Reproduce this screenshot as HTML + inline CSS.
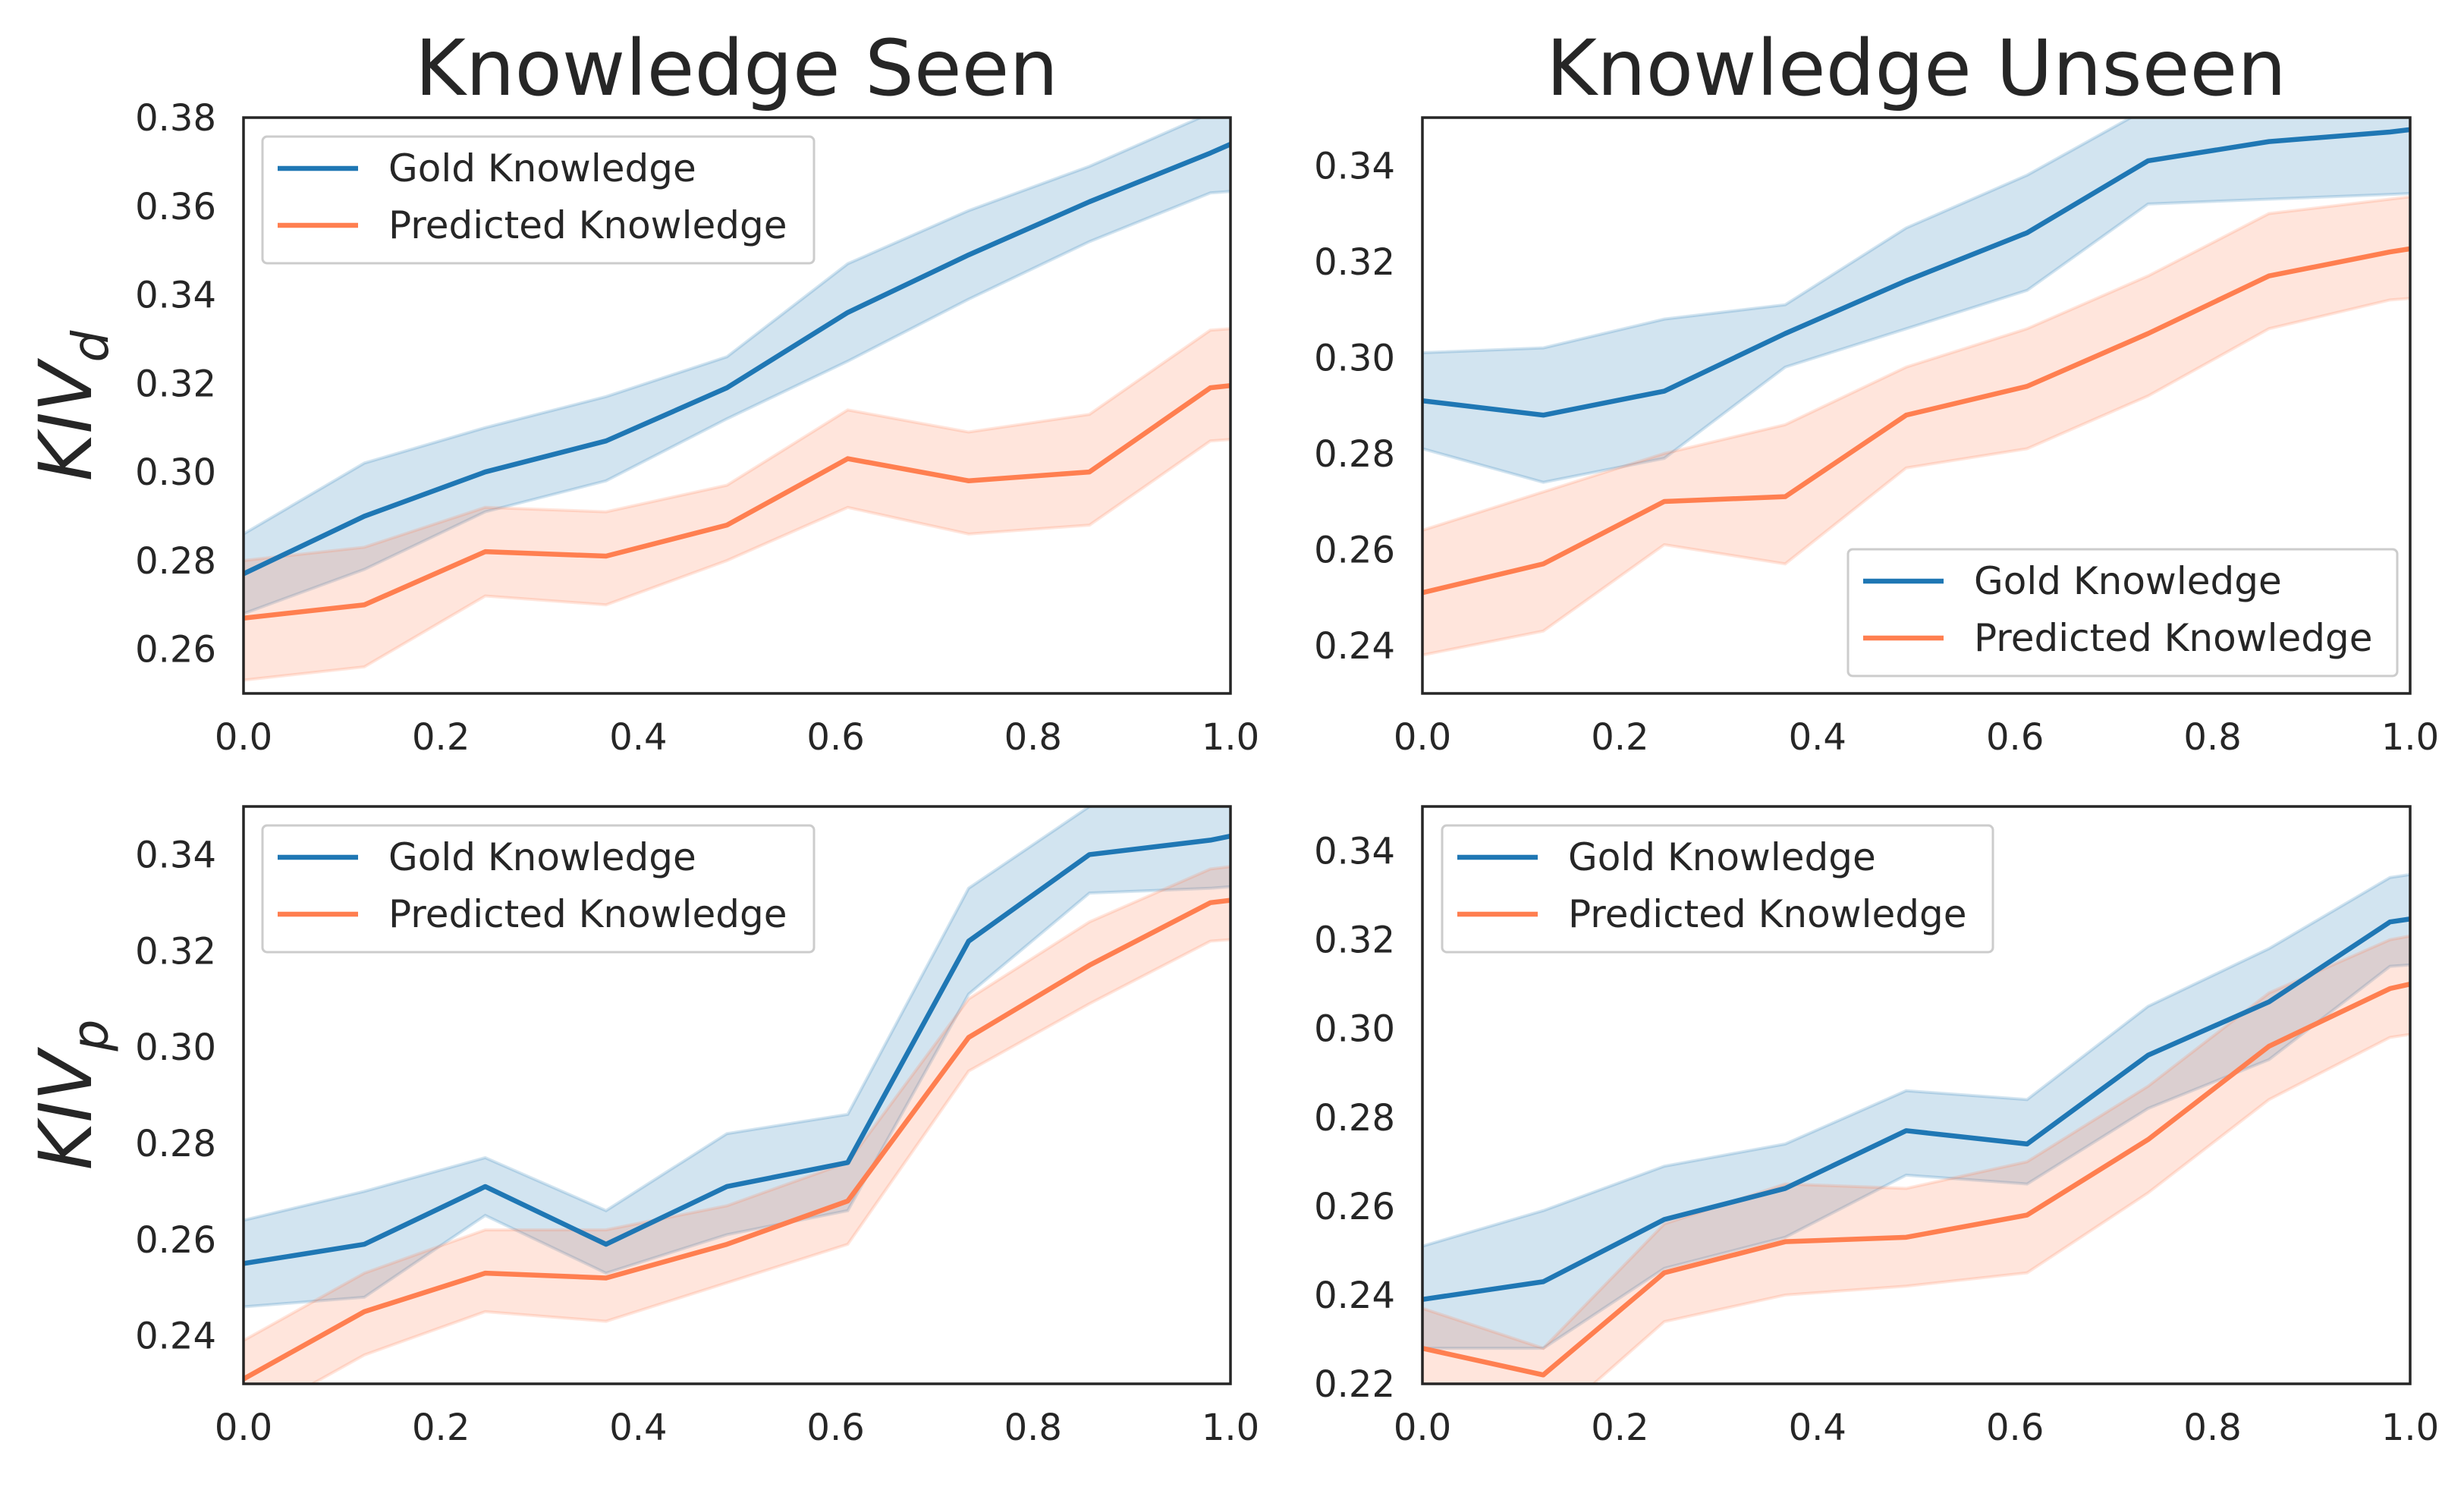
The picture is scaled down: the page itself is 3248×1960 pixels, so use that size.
<!DOCTYPE html>
<html><head><meta charset="utf-8">
<style>
html,body{margin:0;padding:0;background:#fff;}
svg{display:block;}
text{font-family:"DejaVu Sans","Liberation Sans",sans-serif;fill:#262626;}
</style></head>
<body>
<svg id="chart" width="3248" height="1960" viewBox="0 0 3248 1960" xmlns="http://www.w3.org/2000/svg"></svg>
<script>
const xs = [0,0.1224,0.2449,0.3673,0.4898,0.6122,0.7347,0.8571,0.9796,1.102];
const xTicks = [0.0,0.2,0.4,0.6,0.8,1.0];
const xTickLabels = ["0.0","0.2","0.4","0.6","0.8","1.0"];
const seriesNames = ["Gold Knowledge","Predicted Knowledge"];

// Panel A: Knowledge Seen, KIV_d
const aGold = [0.277,0.290,0.300,0.307,0.319,0.336,0.349,0.361,0.372,0.384];
const aGoldLo = [0.268,0.278,0.291,0.298,0.312,0.325,0.339,0.352,0.363,0.365];
const aGoldHi = [0.286,0.302,0.310,0.317,0.326,0.347,0.359,0.369,0.381,0.390];
const aPred = [0.267,0.270,0.282,0.281,0.288,0.303,0.298,0.300,0.319,0.322];
const aPredLo = [0.253,0.256,0.272,0.270,0.280,0.292,0.286,0.288,0.307,0.309];
const aPredHi = [0.280,0.283,0.292,0.291,0.297,0.314,0.309,0.313,0.332,0.334];
const aTicks = [0.26,0.28,0.30,0.32,0.34,0.36,0.38];

// Panel B: Knowledge Unseen, KIV_d
const bGold = [0.291,0.288,0.293,0.305,0.316,0.326,0.341,0.345,0.347,0.350];
const bGoldLo = [0.281,0.274,0.279,0.298,0.306,0.314,0.332,0.333,0.334,0.335];
const bGoldHi = [0.301,0.302,0.308,0.311,0.327,0.338,0.352,0.356,0.359,0.360];
const bPred = [0.251,0.257,0.270,0.271,0.288,0.294,0.305,0.317,0.322,0.326];
const bPredLo = [0.238,0.243,0.261,0.257,0.277,0.281,0.292,0.306,0.312,0.314];
const bPredHi = [0.264,0.272,0.280,0.286,0.298,0.306,0.317,0.330,0.333,0.336];
const bTicks = [0.24,0.26,0.28,0.30,0.32,0.34];

// Panel C: Knowledge Seen, KIV_p
const cGold = [0.255,0.259,0.271,0.259,0.271,0.276,0.322,0.340,0.343,0.348];
const cGoldLo = [0.246,0.248,0.265,0.253,0.261,0.266,0.311,0.332,0.333,0.335];
const cGoldHi = [0.264,0.270,0.277,0.266,0.282,0.286,0.333,0.350,0.353,0.356];
const cPred = [0.231,0.245,0.253,0.252,0.259,0.268,0.302,0.317,0.330,0.333];
const cPredLo = [0.222,0.236,0.245,0.243,0.251,0.259,0.295,0.309,0.322,0.324];
const cPredHi = [0.239,0.253,0.262,0.262,0.267,0.276,0.310,0.326,0.337,0.340];
const cTicks = [0.24,0.26,0.28,0.30,0.32,0.34];

// Panel D: Knowledge Unseen, KIV_p
const dGold = [0.239,0.243,0.257,0.264,0.277,0.274,0.294,0.306,0.324,0.328];
const dGoldLo = [0.228,0.228,0.246,0.253,0.267,0.265,0.282,0.293,0.314,0.316];
const dGoldHi = [0.251,0.259,0.269,0.274,0.286,0.284,0.305,0.318,0.334,0.338];
const dPred = [0.228,0.222,0.245,0.252,0.253,0.258,0.275,0.296,0.309,0.315];
const dPredLo = [0.216,0.210,0.234,0.240,0.242,0.245,0.263,0.284,0.298,0.302];
const dPredHi = [0.237,0.228,0.256,0.265,0.264,0.270,0.287,0.308,0.320,0.325];
const dTicks = [0.22,0.24,0.26,0.28,0.30,0.32,0.34];

const NS = "http://www.w3.org/2000/svg";
const svg = document.getElementById("chart");
function mk(tag, attrs, parent){ const e=document.createElementNS(NS,tag); for(const k in attrs) e.setAttribute(k,attrs[k]); (parent||svg).appendChild(e); return e; }

const BLUE="#1f77b4", ORANGE="#ff7f50";

function panel(id, box, ymin, ymax, yTicks, gold, goldLo, goldHi, pred, predLo, predHi, legend){
  const g = mk("g",{});
  
  
  const X = v => box.x0 + (v-0)/(1-0)*(box.x1-box.x0);
  const Y = v => box.y1 - (v-ymin)/(ymax-ymin)*(box.y1-box.y0);
  const cp = mk("clipPath",{id:"clip-"+id}, g);
  mk("rect",{x:box.x0,y:box.y0,width:box.x1-box.x0,height:box.y1-box.y0},cp);
  const plot = mk("g",{"clip-path":"url(#clip-"+id+")"}, g);
  function band(lo,hi,color,name){
    let d="M"+xs.map((x,i)=>X(x)+","+Y(hi[i])).join("L");
    d+="L"+xs.map((x,i)=>[X(x),Y(lo[i])]).reverse().map(p=>p[0]+","+p[1]).join("L")+"Z";
    const p = mk("path",{d:d,fill:color,"fill-opacity":0.2,stroke:color,"stroke-opacity":0.2,"stroke-width":4},plot);
    
    
  }
  function line(vals,color,name){
    const d="M"+xs.map((x,i)=>X(x)+","+Y(vals[i])).join("L");
    const p = mk("path",{d:d,fill:"none",stroke:color,"stroke-width":6.5,"stroke-linejoin":"round"},plot);
    
    
  }
  band(goldLo,goldHi,BLUE,"gold-confidence-band");
  band(predLo,predHi,ORANGE,"predicted-confidence-band");
  line(gold,BLUE,"gold-knowledge-line");
  line(pred,ORANGE,"predicted-knowledge-line");
  const fr = mk("rect",{x:box.x0,y:box.y0,width:box.x1-box.x0,height:box.y1-box.y0,fill:"none",stroke:"#262626","stroke-width":3.5},g);
  
  
  yTicks.forEach(v=>{
    const t = mk("text",{x:box.x0-36,y:Y(v)+17,"text-anchor":"end","font-size":48},g);
    t.textContent=v.toFixed(2);
    
    
  });
  xTicks.forEach((v,i)=>{
    const t = mk("text",{x:X(v),y:box.y1+74,"text-anchor":"middle","font-size":48},g);
    t.textContent=xTickLabels[i];
    
    
  });
  const L = legend;
  const lg = mk("g",{},g);
  
  
  mk("rect",{x:L.x,y:L.y,width:L.w,height:L.h,rx:6,fill:"#fff","fill-opacity":0.85,stroke:"#cccccc","stroke-width":3},lg);
  [[BLUE,seriesNames[0]],[ORANGE,seriesNames[1]]].forEach((s,i)=>{
    const yy = L.y + 42 + i*75;
    const e = mk("g",{},lg);
    
    
    mk("line",{x1:L.x+20,x2:L.x+126,y1:yy,y2:yy,stroke:s[0],"stroke-width":6.5},e);
    const t = mk("text",{x:L.x+166,y:yy+17,"font-size":50},e);
    t.textContent=s[1];
  });
}

const TL={x0:321,x1:1622,y0:155,y1:914}, TR={x0:1875,x1:3177,y0:155,y1:914};
const BL={x0:321,x1:1622,y0:1063,y1:1824}, BR={x0:1875,x1:3177,y0:1063,y1:1824};
panel("panel-seen-kivd",TL,0.25,0.38,aTicks,aGold,aGoldLo,aGoldHi,aPred,aPredLo,aPredHi,{x:346,y:180,w:727,h:167});
panel("panel-unseen-kivd",TR,0.23,0.35,bTicks,bGold,bGoldLo,bGoldHi,bPred,bPredLo,bPredHi,{x:2436,y:724,w:724,h:167});
panel("panel-seen-kivp",BL,0.23,0.35,cTicks,cGold,cGoldLo,cGoldHi,cPred,cPredLo,cPredHi,{x:346,y:1088,w:727,h:167});
panel("panel-unseen-kivp",BR,0.22,0.35,dTicks,dGold,dGoldLo,dGoldHi,dPred,dPredLo,dPredHi,{x:1901,y:1088,w:726,h:167});

function txt(name,attrs,content,html){
  const t = mk("text",attrs);
  if(html) t.innerHTML=content; else t.textContent=content;
  
  
}
txt("title-knowledge-seen",{x:971,y:125,"text-anchor":"middle","font-size":102},"Knowledge Seen");
txt("title-knowledge-unseen",{x:2526,y:125,"text-anchor":"middle","font-size":102},"Knowledge Unseen");
txt("y-axis-title-kivd",{x:0,y:0,transform:"translate(120,535) rotate(-90)","text-anchor":"middle","font-size":96,"font-style":"italic"},'KIV<tspan font-size="66" dy="22">d</tspan>',true);
txt("y-axis-title-kivp",{x:0,y:0,transform:"translate(120,1443) rotate(-90)","text-anchor":"middle","font-size":96,"font-style":"italic"},'KIV<tspan font-size="66" dy="22">p</tspan>',true);
</script>
</body></html>
